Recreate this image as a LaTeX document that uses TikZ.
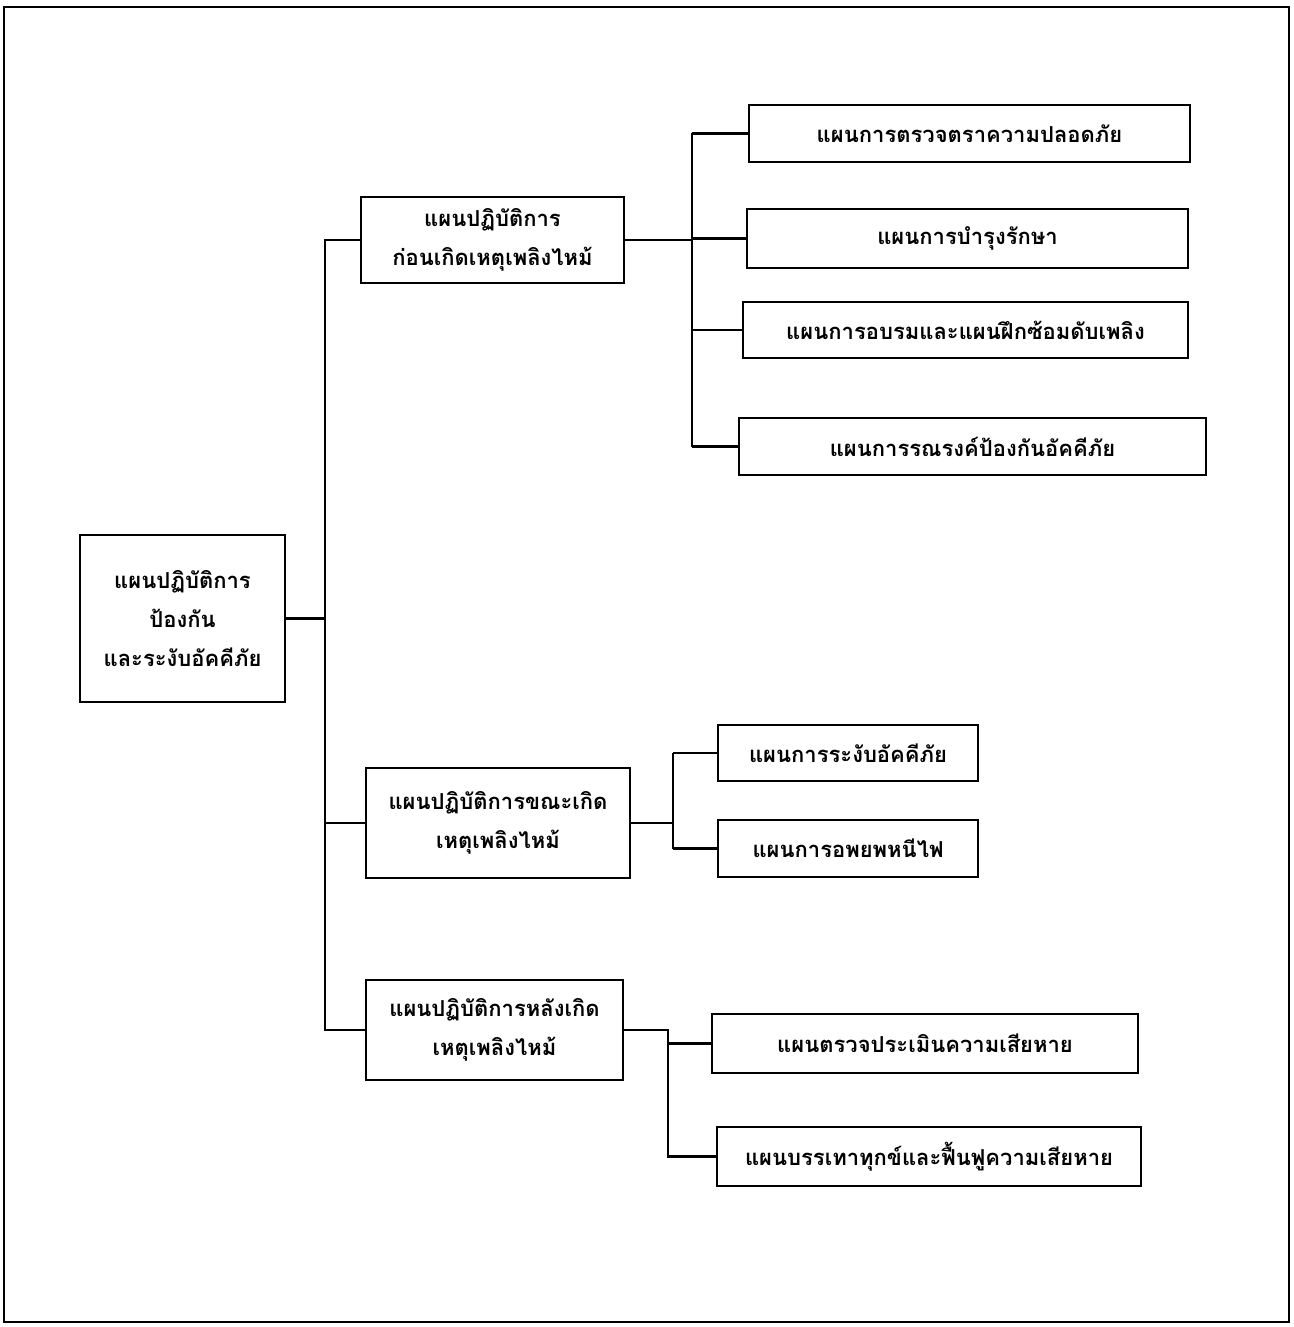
\documentclass[tikz,border=0pt]{standalone}
\usepackage{fontspec}
\newfontfamily\thaifont[Script=Thai]{Loma}
\begin{document}
\begin{tikzpicture}[x=1pt,y=-1pt,
  box/.style={draw=black, line width=2.2pt, fill=white, align=center, inner sep=0pt,
    font=\thaifont\bfseries\fontsize{22}{39}\selectfont},
  conn/.style={draw=black, line width=2.2pt}]
\useasboundingbox (0,0) rectangle (1293,1327);
\draw[line width=2.2pt] (4,7) rectangle (1289,1322);
% root
\node[box, minimum width=205pt, minimum height=167pt] (root) at (182.5,618.5) {แผนปฏิบัติการ\\ป้องกัน\\และระงับอัคคีภัย};
% level 1
\node[box, minimum width=263pt, minimum height=86pt] (A) at (492.5,240) {แผนปฏิบัติการ\\ก่อนเกิดเหตุเพลิงไหม้};
\node[box, minimum width=264pt, minimum height=110pt] (B) at (498,823) {แผนปฏิบัติการขณะเกิด\\เหตุเพลิงไหม้};
\node[box, minimum width=257pt, minimum height=100pt] (C) at (494.5,1030) {แผนปฏิบัติการหลังเกิด\\เหตุเพลิงไหม้};
% level 2 (A)
\node[box, minimum width=441pt, minimum height=57pt] (A1) at (969.5,133.5) {แผนการตรวจตราความปลอดภัย};
\node[box, minimum width=441pt, minimum height=59pt] (A2) at (967.5,238.5) {แผนการบำรุงรักษา};
\node[box, minimum width=445pt, minimum height=56pt] (A3) at (965.5,330) {แผนการอบรมและแผนฝึกซ้อมดับเพลิง};
\node[box, minimum width=467pt, minimum height=57pt] (A4) at (972.5,446.5) {แผนการรณรงค์ป้องกันอัคคีภัย};
% level 2 (B)
\node[box, minimum width=260pt, minimum height=56pt] (B1) at (848,753) {แผนการระงับอัคคีภัย};
\node[box, minimum width=260pt, minimum height=57pt] (B2) at (848,848.5) {แผนการอพยพหนีไฟ};
% level 2 (C)
\node[box, minimum width=426pt, minimum height=59pt] (C1) at (925,1043.5) {แผนตรวจประเมินความเสียหาย};
\node[box, minimum width=424pt, minimum height=59pt] (C2) at (929,1156.5) {แผนบรรเทาทุกข์และฟื้นฟูความเสียหาย};
% junction coordinates
\coordinate (t) at (325,0);
\coordinate (ta) at (692,0);
\coordinate (tb) at (673,0);
\coordinate (tc) at (668,0);
% trunk
\draw[conn] (root.east) -- (root.east -| t);
\draw[conn] (A.west) -- (A.west -| t) -- (C.west -| t) -- (C.west);
\draw[conn] (B.west) -- (B.west -| t);
% branch A
\draw[conn] (A.east) -- (A.east -| ta);
\draw[conn] (A1.west -| ta) -- (A4.west -| ta);
\draw[conn] (A1.west -| ta) -- (A1.west);
\draw[conn] (A2.west -| ta) -- (A2.west);
\draw[conn] (A3.west -| ta) -- (A3.west);
\draw[conn] (A4.west -| ta) -- (A4.west);
% branch B
\draw[conn] (B.east) -- (B.east -| tb);
\draw[conn] (B1.west -| tb) -- (B2.west -| tb);
\draw[conn] (B1.west -| tb) -- (B1.west);
\draw[conn] (B2.west -| tb) -- (B2.west);
% branch C
\draw[conn] (C.east) -- (C.east -| tc) -- (C2.west -| tc) -- (C2.west);
\draw[conn] (C1.west -| tc) -- (C1.west);
\end{tikzpicture}
\end{document}
